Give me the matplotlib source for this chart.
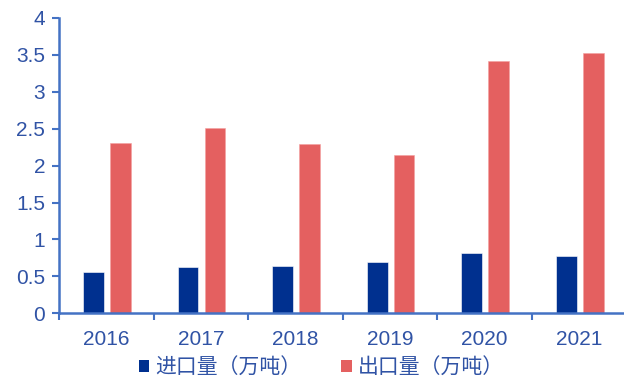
import matplotlib.pyplot as plt
from matplotlib.patches import Patch
import numpy as np

plt.rcParams['font.family'] = ['Liberation Sans', 'Noto Sans CJK SC', 'DejaVu Sans']

# Import / export volumes, 10k tonnes
years = ['2016', '2017', '2018', '2019', '2020', '2021']
imports = [0.556, 0.623, 0.64, 0.695, 0.81, 0.776]
exports = [2.31, 2.51, 2.29, 2.15, 3.42, 3.53]
series_names = ['进口量（万吨）', '出口量（万吨）']

blue = '#00308F'
red = '#E46060'
axis_blue = '#4472C4'
text_blue = '#3053A5'

fig = plt.figure(figsize=(6.24, 3.78), dpi=100)
ax = fig.add_axes([0.0946, 0.1712, 0.909, 0.7812])

x = np.arange(len(years))
w = 0.22
ax.bar(x - 0.135, imports, width=w, color=blue, edgecolor='white', linewidth=0.4)
ax.bar(x + 0.15, exports, width=w, color=red, edgecolor='#F3A0A0', linewidth=0.4)

ax.set_ylim(0, 4)
ax.set_yticks(np.arange(0, 4.01, 0.5))
ax.set_yticklabels(['0', '0.5', '1', '1.5', '2', '2.5', '3', '3.5', '4'])
ax.set_xlim(-0.5, len(years) - 0.5)

# major ticks sit on category boundaries, labels on minor ticks
ax.set_xticks(np.arange(-0.5, len(years), 1.0))
ax.set_xticklabels([])
ax.set_xticks(x, minor=True)
ax.set_xticklabels(years, minor=True)

for s in ['top', 'right']:
    ax.spines[s].set_visible(False)
for s in ['left', 'bottom']:
    ax.spines[s].set_color(axis_blue)
    ax.spines[s].set_linewidth(1.8)

ax.tick_params(axis='y', colors=axis_blue, labelcolor=text_blue, labelsize=15,
               length=5, width=1.5, pad=5)
ax.tick_params(axis='x', which='major', colors=axis_blue, length=5, width=1.5)
ax.tick_params(axis='x', which='minor', length=0, labelcolor=text_blue,
               labelsize=15, pad=12)

handles = [Patch(facecolor=blue), Patch(facecolor=red)]
leg = fig.legend(handles, series_names, loc='center', bbox_to_anchor=(0.515, 0.028),
                 ncol=2, frameon=False, fontsize=15, handlelength=0.5,
                 handleheight=0.5, handletextpad=0.3, columnspacing=1.9,
                 borderaxespad=0)
for t in leg.get_texts():
    t.set_color(text_blue)

fig.savefig('out.png', dpi=100)
